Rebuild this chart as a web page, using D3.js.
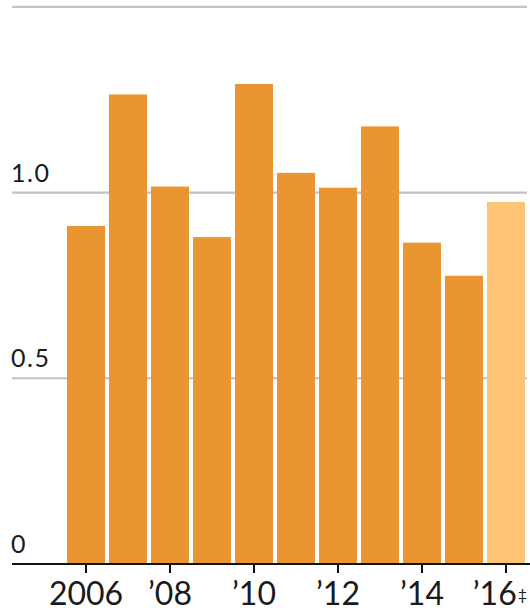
<!DOCTYPE html>
<html>
<head>
<meta charset="utf-8">
<script src="https://cdn.jsdelivr.net/npm/d3@7"></script>
<style>
  body { margin: 0; background: #fff; }
  svg { display: block; }
  text { font-family: Lato, "Open Sans", sans-serif; fill: #1a1a1a; }
</style>
</head>
<body>
<svg id="chart"></svg>
<script>
var years = [2006, 2007, 2008, 2009, 2010, 2011, 2012, 2013, 2014, 2015, 2016],
    values = [0.91, 1.264, 1.016, 0.88, 1.292, 1.053, 1.013, 1.178, 0.865, 0.776, 0.975],
    estimated = [2016],
    yTicks = [0, 0.5, 1.0, 1.5],
    yTickLabels = ["0", "0.5", "1.0", ""],
    xTickYears = [2006, 2008, 2010, 2012, 2014, 2016],
    xTickLabels = ["2006", "\u201908", "\u201910", "\u201912", "\u201914", "\u201916"];

var width = 530,
    height = 613;

var svg = d3.select("#chart")
    .attr("width", width)
    .attr("height", height);

var x = d3.scaleBand()
    .domain(years)
    .range([65, 527])
    .paddingInner(0.095)
    .paddingOuter(0.048);

var y = d3.scaleLinear()
    .domain([0, 1.5])
    .range([564, 6.8]);

// gridlines
svg.append("g")
    .selectAll("line")
    .data(yTicks.filter(function(d) { return d > 0; }))
    .enter().append("line")
    .attr("x1", 12)
    .attr("x2", 527)
    .attr("y1", function(d) { return y(d); })
    .attr("y2", function(d) { return y(d); })
    .style("stroke", "#c2c2c2")
    .style("stroke-width", 2.2);

// y labels
svg.append("g")
    .selectAll("text")
    .data(yTicks)
    .enter().append("text")
    .attr("x", 11)
    .attr("y", function(d) { return y(d) - 11; })
    .style("font-size", "25px")
    .style("letter-spacing", "1.5px")
    .text(function(d, i) { return yTickLabels[i]; });

// bars
svg.append("g")
    .selectAll("rect")
    .data(years)
    .enter().append("rect")
    .attr("x", function(d) { return x(d); })
    .attr("width", x.bandwidth())
    .attr("y", function(d, i) { return y(values[i]); })
    .attr("height", function(d, i) { return y(0) - y(values[i]); })
    .style("fill", function(d) {
        return estimated.indexOf(d) >= 0 ? "#fec576" : "#e99531";
    });

// x axis
svg.append("line")
    .attr("x1", 12)
    .attr("x2", 530)
    .attr("y1", y(0))
    .attr("y2", y(0))
    .style("stroke", "#111")
    .style("stroke-width", 2.2);

var xt = svg.append("g")
    .selectAll("g")
    .data(xTickYears)
    .enter().append("g")
    .attr("transform", function(d) {
        return "translate(" + (x(d) + x.bandwidth() / 2) + ",0)";
    });

xt.append("line")
    .attr("y1", y(0))
    .attr("y2", y(0) + 9)
    .style("stroke", "#111")
    .style("stroke-width", 2);

var lbl = xt.append("text")
    .attr("y", 605)
    .attr("text-anchor", "middle")
    .style("font-size", "32px");

lbl.append("tspan")
    .text(function(d, i) { return xTickLabels[i]; });

// superscript dagger on the estimate year
lbl.filter(function(d) { return estimated.indexOf(d) >= 0; })
    .attr("text-anchor", "end")
    .attr("x", 21)
    .append("tspan")
    .attr("dx", 1)
    .attr("dy", -5)
    .style("font-size", "16px")
    .text("\u2021");
</script>
</body>
</html>
